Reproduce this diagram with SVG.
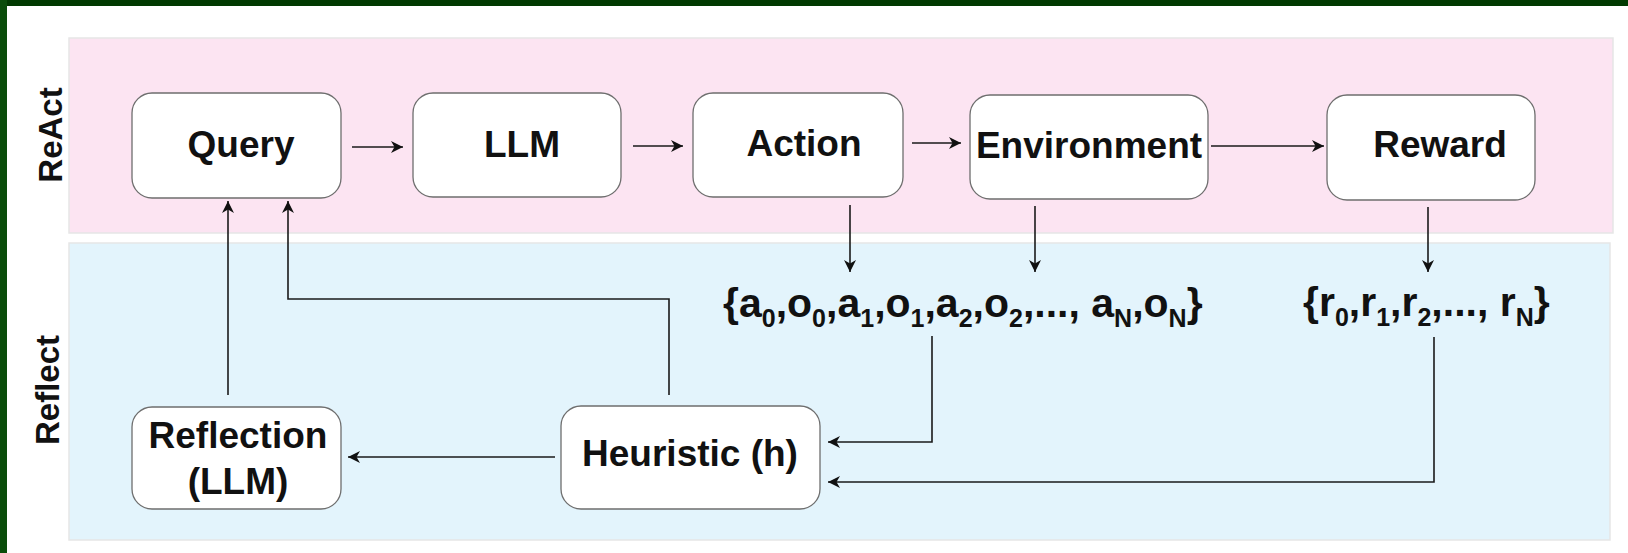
<svg xmlns="http://www.w3.org/2000/svg" width="1628" height="553" viewBox="0 0 1628 553">
<defs>
<style>
.box{fill:#ffffff;stroke:#6e6e6e;stroke-width:1.3}
.lbl{font-family:"Liberation Sans",Arial,sans-serif;font-weight:bold;font-size:37px;fill:#111;text-anchor:middle}
.side{font-family:"Liberation Sans",Arial,sans-serif;font-weight:bold;font-size:33px;fill:#111;text-anchor:middle}
.set{font-family:"Liberation Sans",Arial,sans-serif;font-weight:bold;font-size:41px;fill:#111}
.sub{font-size:25px}
.edge{fill:none;stroke:#1a1a1a;stroke-width:1.6;marker-end:url(#arr)}
</style>
<marker id="arr" markerUnits="userSpaceOnUse" markerWidth="14" markerHeight="14" refX="12" refY="6" orient="auto">
<path d="M0,0 L12,6 L0,12 L3.5,6 Z" fill="#111"/>
</marker>
</defs>
<rect x="0" y="0" width="1628" height="553" fill="#ffffff"/>
<rect x="0" y="0" width="1628" height="6" fill="#013a01"/>
<rect x="0" y="0" width="7" height="553" fill="#0a4d0a"/>
<g id="lanes">
<rect x="69" y="38" width="1544" height="195" fill="#fce4f2" stroke="#e6e6e6" stroke-width="1.5"/>
<rect x="69" y="243" width="1541" height="297" fill="#e3f4fc" stroke="#e6e6e6" stroke-width="1.5"/>
<text class="side" transform="translate(62,135) rotate(-90)">ReAct</text>
<text class="side" transform="translate(59,390) rotate(-90)">Reflect</text>
</g>
<g id="query"><rect class="box" x="132" y="93" width="209" height="105" rx="20"/><text class="lbl" x="241" y="157">Query</text></g>
<g id="llm"><rect class="box" x="413" y="93" width="208" height="104" rx="20"/><text class="lbl" x="522" y="157">LLM</text></g>
<g id="action"><rect class="box" x="693" y="93" width="210" height="104" rx="20"/><text class="lbl" x="804" y="156">Action</text></g>
<g id="environment"><rect class="box" x="970" y="95" width="238" height="104" rx="20"/><text class="lbl" x="1089" y="158">Environment</text></g>
<g id="reward"><rect class="box" x="1327" y="95" width="208" height="105" rx="20"/><text class="lbl" x="1440" y="157">Reward</text></g>
<g id="reflection"><rect class="box" x="132" y="407" width="209" height="102" rx="20"/><text class="lbl" x="238" y="448">Reflection</text><text class="lbl" x="238" y="494">(LLM)</text></g>
<g id="heuristic"><rect class="box" x="561" y="406" width="259" height="103" rx="20"/><text class="lbl" x="690" y="466">Heuristic (h)</text></g>
<g id="aoset"><text class="set" x="723" y="317">{a<tspan class="sub" dy="10">0</tspan><tspan dy="-10">,o</tspan><tspan class="sub" dy="10">0</tspan><tspan dy="-10">,a</tspan><tspan class="sub" dy="10">1</tspan><tspan dy="-10">,o</tspan><tspan class="sub" dy="10">1</tspan><tspan dy="-10">,a</tspan><tspan class="sub" dy="10">2</tspan><tspan dy="-10">,o</tspan><tspan class="sub" dy="10">2</tspan><tspan dy="-10">,..., a</tspan><tspan class="sub" dy="10">N</tspan><tspan dy="-10">,o</tspan><tspan class="sub" dy="10">N</tspan><tspan dy="-10">}</tspan></text></g>
<g id="rset"><text class="set" x="1303" y="316">{r<tspan class="sub" dy="10">0</tspan><tspan dy="-10">,r</tspan><tspan class="sub" dy="10">1</tspan><tspan dy="-10">,r</tspan><tspan class="sub" dy="10">2</tspan><tspan dy="-10">,..., r</tspan><tspan class="sub" dy="10">N</tspan><tspan dy="-10">}</tspan></text></g>
<g id="connectors">
<path class="edge" d="M352,147 L403,147"/>
<path class="edge" d="M633,146 L683,146"/>
<path class="edge" d="M912,143 L961,143"/>
<path class="edge" d="M1211,146 L1324,146"/>
<path class="edge" d="M850,205 L850,272"/>
<path class="edge" d="M1035,206 L1035,272"/>
<path class="edge" d="M1428,207 L1428,272"/>
<path class="edge" d="M932,336 L932,442 L828,442"/>
<path class="edge" d="M1434,337 L1434,482 L828,482"/>
<path class="edge" d="M555,457 L348,457"/>
<path class="edge" d="M228,395 L228,201"/>
<path class="edge" d="M669,395 L669,299 L288,299 L288,201"/>
</g>
</svg>
